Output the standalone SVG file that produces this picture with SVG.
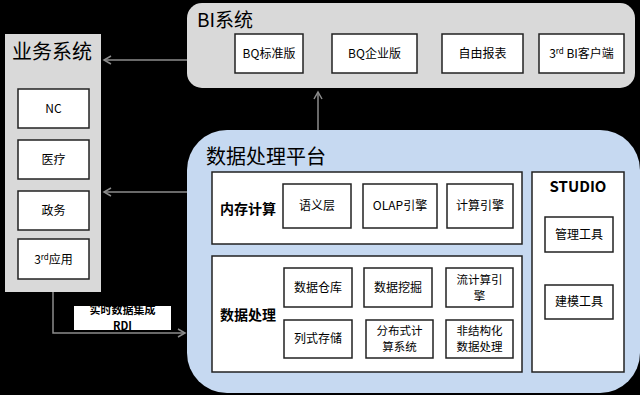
<svg xmlns="http://www.w3.org/2000/svg" width="640" height="395" viewBox="0 0 640 395">
<defs>
<style>
text{font-family:"Noto Sans CJK SC","Microsoft YaHei",sans-serif;fill:#000}
.box{fill:#fff;stroke:#222;stroke-width:1.5}
.gray{fill:#d9d9d9}
.blue{fill:#c6d9f1}
.lbl{font-size:12px;text-anchor:middle}
.lbl2{font-size:11.5px;text-anchor:middle}
.title{font-size:19px}
.bold{font-weight:bold}
.conn{stroke:#8c8c8c;stroke-width:1.5;fill:none}
</style>
<marker id="ah" markerWidth="10" markerHeight="10" refX="8" refY="5" orient="auto" markerUnits="userSpaceOnUse">
<path d="M1,1 L8,5 L1,9" fill="none" stroke="#8c8c8c" stroke-width="1.5"/>
</marker>
</defs>
<rect width="640" height="395" fill="#000"/>

<g id="bi-system">
<rect x="187" y="3" width="448" height="85" rx="15" class="gray"/>
<text x="197" y="27" class="title">BI系统</text>
</g>
<g id="bq-std"><rect x="235" y="34" width="68" height="39" class="box"/><text x="269" y="58" class="lbl">BQ标准版</text></g>
<g id="bq-ent"><rect x="332" y="34" width="85" height="39" class="box"/><text x="374.5" y="58" class="lbl">BQ企业版</text></g>
<g id="free-report"><rect x="442" y="34" width="81" height="39" class="box"/><text x="482.5" y="58" class="lbl">自由报表</text></g>
<g id="bi-client"><rect x="539" y="34" width="85" height="39" class="box"/><text x="581.5" y="58" class="lbl">3<tspan font-size="8" dy="-4">rd</tspan><tspan dy="4"> BI客户端</tspan></text></g>

<g id="biz-system">
<rect x="5" y="34" width="96" height="258" class="gray"/>
<text x="12" y="59" font-size="20">业务系统</text>
</g>
<g id="nc"><rect x="18" y="89" width="71" height="39" class="box"/><text x="53.5" y="113" class="lbl">NC</text></g>
<g id="medical"><rect x="18" y="140" width="71" height="39" class="box"/><text x="53.5" y="164" class="lbl">医疗</text></g>
<g id="gov"><rect x="18" y="191" width="71" height="39" class="box"/><text x="53.5" y="215" class="lbl">政务</text></g>
<g id="app3rd"><rect x="18" y="239" width="71" height="40" class="box"/><text x="53.5" y="264" class="lbl">3<tspan font-size="8" dy="-4">rd</tspan><tspan dy="4">应用</tspan></text></g>

<g id="platform">
<rect x="187" y="130" width="453" height="263" rx="40" class="blue"/>
<text x="206" y="164" font-size="20">数据处理平台</text>
</g>
<g id="mem-compute">
<rect x="212" y="172" width="310" height="72" class="box"/>
<text x="220" y="214" font-size="14" class="bold">内存计算</text>
</g>
<g id="semantic"><rect x="283" y="184" width="68" height="44" class="box"/><text x="317" y="210" class="lbl">语义层</text></g>
<g id="olap"><rect x="363" y="184" width="74" height="44" class="box"/><text x="400" y="210" class="lbl">OLAP引擎</text></g>
<g id="calc-engine"><rect x="447" y="184" width="66" height="44" class="box"/><text x="480" y="210" class="lbl">计算引擎</text></g>

<g id="data-proc">
<rect x="212" y="256" width="310" height="116" class="box"/>
<text x="220" y="320" font-size="14" class="bold">数据处理</text>
</g>
<g id="dw"><rect x="284" y="268" width="68" height="39" class="box"/><text x="318" y="292" class="lbl">数据仓库</text></g>
<g id="mining"><rect x="364" y="268" width="68" height="39" class="box"/><text x="398" y="292" class="lbl">数据挖掘</text></g>
<g id="stream"><rect x="446" y="268" width="67" height="39" class="box"/><text x="479.5" y="284" class="lbl2">流计算引</text><text x="479.5" y="300" class="lbl2">擎</text></g>
<g id="columnar"><rect x="284" y="320" width="68" height="38" class="box"/><text x="318" y="343" class="lbl">列式存储</text></g>
<g id="distributed"><rect x="366" y="320" width="67" height="38" class="box"/><text x="399.5" y="335" class="lbl2">分布式计</text><text x="399.5" y="351" class="lbl2">算系统</text></g>
<g id="unstructured"><rect x="446" y="320" width="67" height="38" class="box"/><text x="479.5" y="335" class="lbl2">非结构化</text><text x="479.5" y="351" class="lbl2">数据处理</text></g>

<g id="studio">
<rect x="532" y="172" width="92" height="200" class="box"/>
<text x="578" y="192" font-size="15" class="bold" text-anchor="middle">STUDIO</text>
</g>
<g id="mgmt-tool"><rect x="545" y="217" width="68" height="35" class="box"/><text x="579" y="239" class="lbl">管理工具</text></g>
<g id="model-tool"><rect x="545" y="285" width="68" height="34" class="box"/><text x="579" y="306" class="lbl">建模工具</text></g>

<g id="connectors">
<line x1="187" y1="60" x2="104" y2="60" class="conn" marker-end="url(#ah)"/>
<line x1="187" y1="192" x2="104" y2="192" class="conn" marker-end="url(#ah)"/>
<line x1="318" y1="130" x2="318" y2="92" class="conn" marker-end="url(#ah)"/>
<polyline points="53,292 53,333 185,333" class="conn" marker-end="url(#ah)"/>
<g id="rdi-label">
<rect x="74" y="306" width="97" height="24" fill="#fff"/>
<text x="122.5" y="314" font-size="11" class="bold" text-anchor="middle">实时数据集成</text>
<text x="122.5" y="330" font-size="11" class="bold" text-anchor="middle">RDI</text>
</g>
</g>
</svg>
